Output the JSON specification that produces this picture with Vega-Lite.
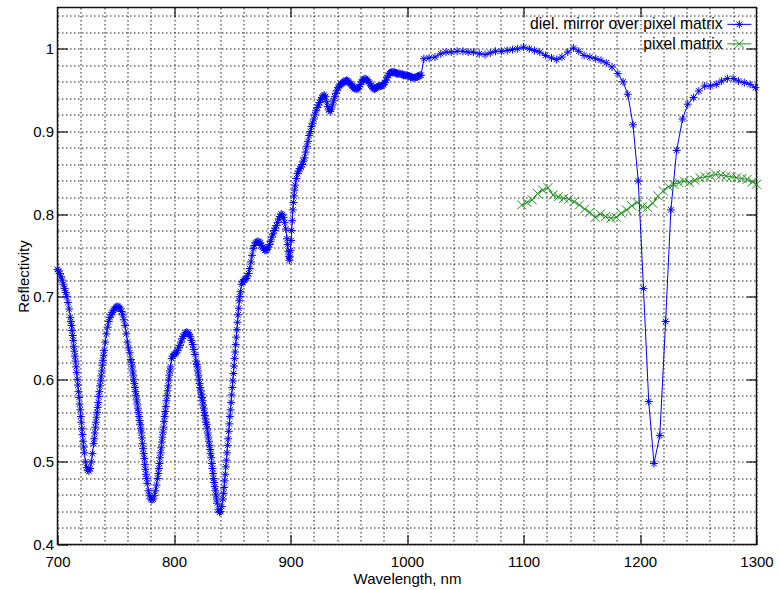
{
  "$schema": "https://vega.github.io/schema/vega-lite/v6.json",
  "width": 699,
  "height": 537,
  "autosize": "none",
  "padding": {"left": 57.5, "top": 7.5, "right": 23.5, "bottom": 45.5},
  "background": "white",
  "config": {
    "view": {"stroke": "#111", "strokeWidth": 1.5},
    "font": "Liberation Sans",
    "axis": {"labelFont": "Liberation Sans", "titleFont": "Liberation Sans", "labelFontSize": 15, "titleFontSize": 15, "titleFontWeight": "normal", "labelColor": "#000", "titleColor": "#000", "domain": false}
  },
  "datasets": {
    "mirror": [
      {"x":700,"y":0.733},{"x":701,"y":0.731},{"x":702,"y":0.728},{"x":703,"y":0.724},{"x":704,"y":0.72},{"x":705,"y":0.715},{"x":706,"y":0.71},{"x":707,"y":0.705},{"x":708,"y":0.7},{"x":709,"y":0.693},
      {"x":710,"y":0.685},{"x":711,"y":0.675},{"x":712,"y":0.665},{"x":713,"y":0.653},{"x":714,"y":0.64},{"x":715,"y":0.628},{"x":716,"y":0.615},{"x":717,"y":0.6},{"x":718,"y":0.585},{"x":719,"y":0.57},
      {"x":720,"y":0.555},{"x":721,"y":0.54},{"x":722,"y":0.525},{"x":723,"y":0.511},{"x":724,"y":0.5},{"x":725,"y":0.493},{"x":726,"y":0.49},{"x":727,"y":0.489},{"x":728,"y":0.492},{"x":729,"y":0.5},
      {"x":730,"y":0.51},{"x":731,"y":0.522},{"x":732,"y":0.535},{"x":733,"y":0.548},{"x":734,"y":0.56},{"x":735,"y":0.572},{"x":736,"y":0.585},{"x":737,"y":0.598},{"x":738,"y":0.61},{"x":739,"y":0.623},
      {"x":740,"y":0.635},{"x":741,"y":0.645},{"x":742,"y":0.655},{"x":743,"y":0.663},{"x":744,"y":0.67},{"x":745,"y":0.675},{"x":746,"y":0.678},{"x":747,"y":0.681},{"x":748,"y":0.683},{"x":749,"y":0.685},
      {"x":750,"y":0.687},{"x":751,"y":0.688},{"x":752,"y":0.688},{"x":753,"y":0.687},{"x":754,"y":0.685},{"x":755,"y":0.682},{"x":756,"y":0.678},{"x":757,"y":0.672},{"x":758,"y":0.665},{"x":759,"y":0.655},
      {"x":760,"y":0.645},{"x":761,"y":0.638},{"x":762,"y":0.632},{"x":763,"y":0.624},{"x":764,"y":0.615},{"x":765,"y":0.605},{"x":766,"y":0.595},{"x":767,"y":0.585},{"x":768,"y":0.575},{"x":769,"y":0.565},
      {"x":770,"y":0.555},{"x":771,"y":0.545},{"x":772,"y":0.535},{"x":773,"y":0.522},{"x":774,"y":0.51},{"x":775,"y":0.497},{"x":776,"y":0.485},{"x":777,"y":0.474},{"x":778,"y":0.465},{"x":779,"y":0.459},
      {"x":780,"y":0.455},{"x":781,"y":0.454},{"x":782,"y":0.455},{"x":783,"y":0.459},{"x":784,"y":0.465},{"x":785,"y":0.472},{"x":786,"y":0.48},{"x":787,"y":0.492},{"x":788,"y":0.505},{"x":789,"y":0.517},
      {"x":790,"y":0.53},{"x":791,"y":0.542},{"x":792,"y":0.555},{"x":793,"y":0.567},{"x":794,"y":0.58},{"x":795,"y":0.592},{"x":796,"y":0.605},{"x":797,"y":0.615},{"x":798,"y":0.625},{"x":799,"y":0.628},
      {"x":800,"y":0.63},{"x":801,"y":0.631},{"x":802,"y":0.632},{"x":803,"y":0.635},{"x":804,"y":0.638},{"x":805,"y":0.641},{"x":806,"y":0.645},{"x":807,"y":0.649},{"x":808,"y":0.652},{"x":809,"y":0.654},
      {"x":810,"y":0.656},{"x":811,"y":0.657},{"x":812,"y":0.656},{"x":813,"y":0.654},{"x":814,"y":0.652},{"x":815,"y":0.647},{"x":816,"y":0.642},{"x":817,"y":0.636},{"x":818,"y":0.63},{"x":819,"y":0.622},
      {"x":820,"y":0.615},{"x":821,"y":0.605},{"x":822,"y":0.595},{"x":823,"y":0.586},{"x":824,"y":0.578},{"x":825,"y":0.569},{"x":826,"y":0.56},{"x":827,"y":0.552},{"x":828,"y":0.545},{"x":829,"y":0.535},
      {"x":830,"y":0.525},{"x":831,"y":0.515},{"x":832,"y":0.505},{"x":833,"y":0.492},{"x":834,"y":0.48},{"x":835,"y":0.47},{"x":836,"y":0.46},{"x":837,"y":0.45},{"x":838,"y":0.442},{"x":839,"y":0.439},
      {"x":840,"y":0.44},{"x":841,"y":0.446},{"x":842,"y":0.455},{"x":843,"y":0.469},{"x":844,"y":0.485},{"x":845,"y":0.502},{"x":846,"y":0.52},{"x":847,"y":0.537},{"x":848,"y":0.555},{"x":849,"y":0.572},
      {"x":850,"y":0.59},{"x":851,"y":0.607},{"x":852,"y":0.625},{"x":853,"y":0.642},{"x":854,"y":0.66},{"x":855,"y":0.678},{"x":856,"y":0.695},{"x":857,"y":0.706},{"x":858,"y":0.715},{"x":859,"y":0.718},
      {"x":860,"y":0.72},{"x":861,"y":0.721},{"x":862,"y":0.722},{"x":863,"y":0.725},{"x":864,"y":0.728},{"x":865,"y":0.734},{"x":866,"y":0.742},{"x":867,"y":0.75},{"x":868,"y":0.758},{"x":869,"y":0.762},
      {"x":870,"y":0.765},{"x":871,"y":0.766},{"x":872,"y":0.767},{"x":873,"y":0.766},{"x":874,"y":0.765},{"x":875,"y":0.762},{"x":876,"y":0.76},{"x":877,"y":0.758},{"x":878,"y":0.756},{"x":879,"y":0.756},
      {"x":880,"y":0.757},{"x":881,"y":0.76},{"x":882,"y":0.763},{"x":883,"y":0.767},{"x":884,"y":0.772},{"x":885,"y":0.776},{"x":886,"y":0.78},{"x":887,"y":0.783},{"x":888,"y":0.786},{"x":889,"y":0.79},
      {"x":890,"y":0.794},{"x":891,"y":0.797},{"x":892,"y":0.8},{"x":893,"y":0.799},{"x":894,"y":0.796},{"x":895,"y":0.79},{"x":896,"y":0.782},{"x":897,"y":0.77},{"x":898,"y":0.755},{"x":899,"y":0.744},
      {"x":900,"y":0.756},{"x":901,"y":0.78},{"x":902,"y":0.805},{"x":903,"y":0.822},{"x":904,"y":0.835},{"x":905,"y":0.843},{"x":906,"y":0.849},{"x":907,"y":0.852},{"x":908,"y":0.855},{"x":909,"y":0.857},
      {"x":910,"y":0.86},{"x":911,"y":0.864},{"x":912,"y":0.868},{"x":913,"y":0.875},{"x":914,"y":0.882},{"x":915,"y":0.888},{"x":916,"y":0.895},{"x":917,"y":0.9},{"x":918,"y":0.906},{"x":919,"y":0.91},
      {"x":920,"y":0.915},{"x":921,"y":0.92},{"x":922,"y":0.925},{"x":923,"y":0.929},{"x":924,"y":0.932},{"x":925,"y":0.935},{"x":926,"y":0.938},{"x":927,"y":0.941},{"x":928,"y":0.943},{"x":929,"y":0.944},
      {"x":930,"y":0.942},{"x":931,"y":0.936},{"x":932,"y":0.93},{"x":933,"y":0.926},{"x":934,"y":0.924},{"x":935,"y":0.927},{"x":936,"y":0.932},{"x":937,"y":0.937},{"x":938,"y":0.942},{"x":939,"y":0.946},
      {"x":940,"y":0.95},{"x":941,"y":0.953},{"x":942,"y":0.955},{"x":943,"y":0.957},{"x":944,"y":0.958},{"x":945,"y":0.959},{"x":946,"y":0.96},{"x":947,"y":0.961},{"x":948,"y":0.962},{"x":949,"y":0.961},
      {"x":950,"y":0.96},{"x":951,"y":0.958},{"x":952,"y":0.957},{"x":953,"y":0.955},{"x":954,"y":0.953},{"x":955,"y":0.952},{"x":956,"y":0.952},{"x":957,"y":0.951},{"x":958,"y":0.952},{"x":959,"y":0.954},
      {"x":960,"y":0.957},{"x":961,"y":0.96},{"x":962,"y":0.962},{"x":963,"y":0.963},{"x":964,"y":0.964},{"x":965,"y":0.963},{"x":966,"y":0.962},{"x":967,"y":0.96},{"x":968,"y":0.958},{"x":969,"y":0.956},
      {"x":970,"y":0.954},{"x":971,"y":0.952},{"x":972,"y":0.951},{"x":973,"y":0.952},{"x":974,"y":0.953},{"x":975,"y":0.954},{"x":976,"y":0.955},{"x":977,"y":0.955},{"x":978,"y":0.955},{"x":979,"y":0.956},
      {"x":980,"y":0.957},{"x":981,"y":0.959},{"x":982,"y":0.962},{"x":983,"y":0.965},{"x":984,"y":0.968},{"x":985,"y":0.97},{"x":986,"y":0.971},{"x":987,"y":0.972},{"x":988,"y":0.972},{"x":989,"y":0.972},
      {"x":990,"y":0.971},{"x":991,"y":0.97},{"x":992,"y":0.97},{"x":993,"y":0.97},{"x":994,"y":0.97},{"x":995,"y":0.969},{"x":996,"y":0.969},{"x":997,"y":0.968},{"x":998,"y":0.968},{"x":999,"y":0.968},
      {"x":1000,"y":0.968},{"x":1001,"y":0.967},{"x":1002,"y":0.967},{"x":1003,"y":0.966},{"x":1004,"y":0.966},{"x":1005,"y":0.965},{"x":1006,"y":0.965},{"x":1007,"y":0.965},{"x":1008,"y":0.966},{"x":1009,"y":0.966},
      {"x":1010,"y":0.967},{"x":1011,"y":0.968},{"x":1012,"y":0.968},
      {"x":711.5,"y":0.67},{"x":712.5,"y":0.659},{"x":713.5,"y":0.647},{"x":714.5,"y":0.634},{"x":715.5,"y":0.622},{"x":716.5,"y":0.608},{"x":717.5,"y":0.593},{"x":718.5,"y":0.578},{"x":719.5,"y":0.563},{"x":720.5,"y":0.548},{"x":721.5,"y":0.533},{"x":722.5,"y":0.518},
      {"x":731.5,"y":0.528},{"x":732.5,"y":0.542},{"x":733.5,"y":0.554},{"x":734.5,"y":0.566},{"x":735.5,"y":0.579},{"x":736.5,"y":0.592},{"x":737.5,"y":0.604},{"x":738.5,"y":0.617},{"x":739.5,"y":0.629},
      {"x":763.5,"y":0.62},{"x":764.5,"y":0.61},{"x":765.5,"y":0.6},{"x":766.5,"y":0.59},{"x":767.5,"y":0.58},{"x":768.5,"y":0.57},{"x":769.5,"y":0.56},{"x":770.5,"y":0.55},{"x":771.5,"y":0.54},{"x":772.5,"y":0.529},{"x":773.5,"y":0.516},{"x":774.5,"y":0.504},{"x":775.5,"y":0.491},{"x":776.5,"y":0.48},
      {"x":786.5,"y":0.486},{"x":787.5,"y":0.498},{"x":788.5,"y":0.511},{"x":789.5,"y":0.524},{"x":790.5,"y":0.536},{"x":791.5,"y":0.549},{"x":792.5,"y":0.561},{"x":793.5,"y":0.574},{"x":794.5,"y":0.586},{"x":795.5,"y":0.599},{"x":796.5,"y":0.61},
      {"x":819.5,"y":0.618},{"x":820.5,"y":0.61},{"x":821.5,"y":0.6},{"x":822.5,"y":0.59},{"x":823.5,"y":0.582},{"x":824.5,"y":0.574},{"x":825.5,"y":0.565},{"x":826.5,"y":0.556},{"x":827.5,"y":0.548},{"x":828.5,"y":0.54},{"x":829.5,"y":0.53},{"x":830.5,"y":0.52},{"x":831.5,"y":0.51},{"x":832.5,"y":0.498},{"x":833.5,"y":0.486},{"x":834.5,"y":0.475},{"x":835.5,"y":0.465},{"x":836.5,"y":0.455},
      {"x":842.5,"y":0.462},{"x":843.5,"y":0.477},{"x":844.5,"y":0.494},{"x":845.5,"y":0.511},{"x":846.5,"y":0.528},{"x":847.5,"y":0.546},{"x":848.5,"y":0.563},{"x":849.5,"y":0.581},{"x":850.5,"y":0.598},{"x":851.5,"y":0.616},{"x":852.5,"y":0.633},{"x":853.5,"y":0.651},{"x":854.5,"y":0.669},{"x":855.5,"y":0.686},{"x":856.5,"y":0.7},
      {"x":897.5,"y":0.763},{"x":898.5,"y":0.749},{"x":899.5,"y":0.748},{"x":900.5,"y":0.768},{"x":901.5,"y":0.792},{"x":902.5,"y":0.814},{"x":903.5,"y":0.829},
      {"x":1014.5,"y":0.988},{"x":1019,"y":0.989},{"x":1024,"y":0.99},{"x":1029,"y":0.994},{"x":1033.5,"y":0.996},{"x":1038,"y":0.996},{"x":1043,"y":0.997},{"x":1048,"y":0.997},{"x":1052.5,"y":0.996},{"x":1057,"y":0.996},
      {"x":1062,"y":0.994},{"x":1067,"y":0.993},{"x":1071.5,"y":0.995},{"x":1076,"y":0.997},{"x":1081,"y":0.997},{"x":1086,"y":0.998},{"x":1090.5,"y":0.999},{"x":1095,"y":1.0},{"x":1100,"y":1.002},{"x":1105,"y":1.0},
      {"x":1109.5,"y":0.998},{"x":1114,"y":0.996},{"x":1119,"y":0.992},{"x":1124,"y":0.989},{"x":1128.5,"y":0.987},{"x":1133,"y":0.99},{"x":1138,"y":0.996},{"x":1143,"y":1.001},{"x":1147.5,"y":0.997},{"x":1152,"y":0.992},
      {"x":1157,"y":0.99},{"x":1162,"y":0.988},{"x":1166.5,"y":0.986},{"x":1171,"y":0.983},{"x":1176,"y":0.978},{"x":1181,"y":0.97},{"x":1185.5,"y":0.96},{"x":1189.5,"y":0.945},{"x":1194,"y":0.908},{"x":1198.5,"y":0.84},
      {"x":1203,"y":0.71},{"x":1207.5,"y":0.573},{"x":1212,"y":0.498},{"x":1217,"y":0.532},{"x":1222,"y":0.67},{"x":1226.5,"y":0.805},{"x":1231.5,"y":0.877},{"x":1236.5,"y":0.915},{"x":1241,"y":0.933},{"x":1246,"y":0.941},
      {"x":1250.5,"y":0.949},{"x":1255.5,"y":0.955},{"x":1260.5,"y":0.955},{"x":1265.5,"y":0.957},{"x":1270,"y":0.961},{"x":1275,"y":0.964},{"x":1280,"y":0.964},{"x":1284.5,"y":0.961},{"x":1289.5,"y":0.959},{"x":1294.5,"y":0.957},{"x":1299,"y":0.953}
    ],
    "matrix": [
      {"x":1098.5,"y":0.811},{"x":1103,"y":0.814},{"x":1107.5,"y":0.817},{"x":1112,"y":0.825},{"x":1116.5,"y":0.829},{"x":1121,"y":0.832},{"x":1125.5,"y":0.823},{"x":1130,"y":0.821},{"x":1134.5,"y":0.819},{"x":1139,"y":0.818},
      {"x":1143.5,"y":0.815},{"x":1148,"y":0.811},{"x":1152.5,"y":0.806},{"x":1157,"y":0.802},{"x":1161.5,"y":0.796},{"x":1166,"y":0.8},{"x":1170.5,"y":0.797},{"x":1175,"y":0.795},{"x":1179.5,"y":0.796},{"x":1184,"y":0.801},
      {"x":1188.5,"y":0.805},{"x":1193,"y":0.81},{"x":1197.5,"y":0.814},{"x":1202,"y":0.809},{"x":1206.5,"y":0.808},{"x":1211,"y":0.813},{"x":1215.5,"y":0.822},{"x":1220,"y":0.828},{"x":1224.5,"y":0.833},{"x":1229,"y":0.836},
      {"x":1233.5,"y":0.838},{"x":1238,"y":0.84},{"x":1242.5,"y":0.838},{"x":1247,"y":0.841},{"x":1251.5,"y":0.844},{"x":1256,"y":0.845},{"x":1260.5,"y":0.846},{"x":1265,"y":0.848},{"x":1269.5,"y":0.847},{"x":1274,"y":0.846},
      {"x":1278.5,"y":0.845},{"x":1283,"y":0.844},{"x":1287.5,"y":0.843},{"x":1292,"y":0.842},{"x":1296.5,"y":0.839},{"x":1300,"y":0.836}
    ]
  },
  "resolve": {"axis": {"x": "independent", "y": "independent"}},
  "layer": [
    {
      "data": {"name": "mirror"},
      "mark": {"type": "line", "strokeWidth": 1, "clip": true},
      "encoding": {
        "x": {"field": "x", "type": "quantitative", "scale": {"domain": [700, 1300], "nice": false, "zero": false},
          "axis": {"orient": "bottom", "title": "Wavelength, nm", "titlePadding": 2,
            "values": [700,720,740,760,780,800,820,840,860,880,900,920,940,960,980,1000,1020,1040,1060,1080,1100,1120,1140,1160,1180,1200,1220,1240,1260,1280,1300],
            "grid": true, "gridDash": [1.5, 2.5], "gridColor": "#222", "gridWidth": 1,
            "tickSize": -10, "tickColor": "#111", "tickWidth": 1.2,
            "tickOpacity": {"condition": {"test": "datum.value % 100 == 0", "value": 1}, "value": 0},
            "labelExpr": "datum.value % 100 == 0 ? format(datum.value, 'd') : ''",
            "labelPadding": 20, "labelFlush": false, "labelOverlap": false}},
        "y": {"field": "y", "type": "quantitative", "scale": {"domain": [0.4, 1.05], "nice": false, "zero": false},
          "axis": {"orient": "left", "title": "Reflectivity", "titlePadding": 1,
            "values": [0.4,0.42,0.44,0.46,0.48,0.5,0.52,0.54,0.56,0.58,0.6,0.62,0.64,0.66,0.68,0.7,0.72,0.74,0.76,0.78,0.8,0.82,0.84,0.86,0.88,0.9,0.92,0.94,0.96,0.98,1.0,1.02,1.04],
            "grid": true, "gridDash": [1.5, 2.5], "gridColor": "#222", "gridWidth": 1,
            "tickSize": -10, "tickColor": "#111", "tickWidth": 1.2,
            "tickOpacity": {"condition": {"test": "abs(datum.value*10 - round(datum.value*10)) < 0.01", "value": 1}, "value": 0},
            "labelExpr": "abs(datum.value*10 - round(datum.value*10)) < 0.01 ? format(datum.value, '.1~f') : ''",
            "labelPadding": 14, "labelOverlap": false, "labelFlush": false}},
        "color": {"datum": "diel. mirror over pixel matrix", "type": "nominal",
          "scale": {"domain": ["diel. mirror over pixel matrix", "pixel matrix"], "range": ["#0000ff", "#1f8f1f"]},
          "legend": {"orient": "none", "legendX": 674, "legendY": 9, "title": null, "padding": 0,
            "labelFont": "Liberation Sans", "labelFontSize": 15.7, "labelColor": "#000", "labelLimit": 400,
            "labelAlign": "right", "labelOffset": -24.5, "rowPadding": 2.5, "symbolSize": 64, "symbolStrokeWidth": 1,
            "encode": {"symbols": {"update": {
              "shape": {"signal": "datum.value == 'pixel matrix' ? 'M-3,0L3,0M-1.1,-1.1L1.1,1.1M-1.1,1.1L1.1,-1.1' : 'M-3,0L3,0M-1,0L1,0M0,-1L0,1M-0.7,-0.7L0.7,0.7M-0.7,0.7L0.7,-0.7'"},
              "fill": {"value": "transparent"},
              "stroke": {"signal": "datum.value == 'pixel matrix' ? '#1f8f1f' : '#0000ff'"},
              "strokeWidth": {"value": 1},
              "opacity": {"value": 1}}}}}},
        "order": {"field": "x", "type": "quantitative"}
      }
    },
    {
      "data": {"name": "matrix"},
      "mark": {"type": "line", "strokeWidth": 1, "clip": true},
      "encoding": {
        "x": {"field": "x", "type": "quantitative", "axis": null},
        "y": {"field": "y", "type": "quantitative", "axis": null},
        "color": {"datum": "pixel matrix", "type": "nominal"},
        "order": {"field": "x", "type": "quantitative"}
      }
    },
    {
      "data": {"name": "mirror"},
      "mark": {"type": "point", "filled": false, "opacity": 1, "strokeWidth": 1, "size": 64, "shape": "M-1,0L1,0M0,-1L0,1M-0.7,-0.7L0.7,0.7M-0.7,0.7L0.7,-0.7"},
      "encoding": {
        "x": {"field": "x", "type": "quantitative",
          "axis": {"orient": "top", "title": null, "values": [800, 900, 1000, 1100, 1200], "labels": false, "grid": false, "tickSize": -9, "tickColor": "#111", "tickWidth": 1.2}},
        "y": {"field": "y", "type": "quantitative",
          "axis": {"orient": "right", "title": null, "values": [0.5, 0.6, 0.7, 0.8, 0.9, 1.0], "labels": false, "grid": false, "tickSize": -10, "tickColor": "#111", "tickWidth": 1.2}},
        "color": {"datum": "diel. mirror over pixel matrix", "type": "nominal"}
      }
    },
    {
      "data": {"name": "matrix"},
      "mark": {"type": "point", "filled": false, "opacity": 1, "strokeWidth": 1, "size": 81, "shape": "M-1,-1L1,1M-1,1L1,-1"},
      "encoding": {
        "x": {"field": "x", "type": "quantitative", "axis": null},
        "y": {"field": "y", "type": "quantitative", "axis": null},
        "color": {"datum": "pixel matrix", "type": "nominal"}
      }
    }
  ]
}
